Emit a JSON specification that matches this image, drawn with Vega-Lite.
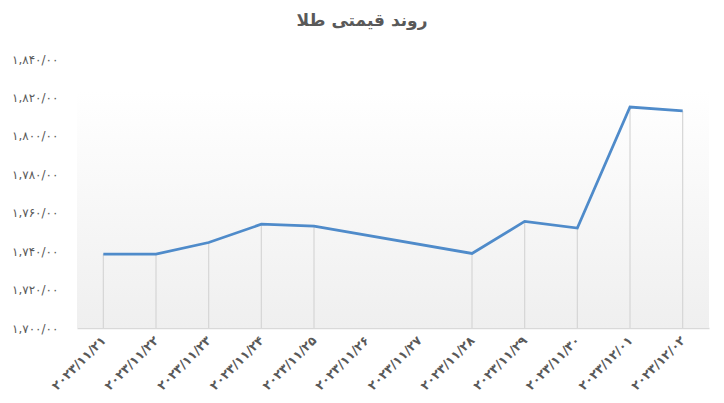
{
  "$schema": "https://vega.github.io/schema/vega-lite/v6.json",
  "width": 632,
  "height": 269,
  "autosize": {"type": "none"},
  "padding": {"left": 77, "top": 59, "right": 15, "bottom": 75},
  "background": "white",
  "title": {"text": "روند قیمتی طلا", "anchor": "middle", "dx": -31, "offset": 23, "fontSize": 17, "fontWeight": "bold", "color": "#595959", "font": "DejaVu Sans"},
  "data": {"values": [
    {"date": "۲۰۲۳/۱۱/۲۱", "price": 1738.5},
    {"date": "۲۰۲۳/۱۱/۲۲", "price": 1738.5},
    {"date": "۲۰۲۳/۱۱/۲۳", "price": 1744.5},
    {"date": "۲۰۲۳/۱۱/۲۴", "price": 1754},
    {"date": "۲۰۲۳/۱۱/۲۵", "price": 1753},
    {"date": "۲۰۲۳/۱۱/۲۸", "price": 1738.8},
    {"date": "۲۰۲۳/۱۱/۲۹", "price": 1755.5},
    {"date": "۲۰۲۳/۱۱/۳۰", "price": 1752},
    {"date": "۲۰۲۳/۱۲/۰۱", "price": 1815},
    {"date": "۲۰۲۳/۱۲/۰۲", "price": 1813}
  ]},
  "encoding": {
    "x": {
      "field": "date", "type": "ordinal", "sort": null,
      "scale": {"type": "point", "padding": 0.5, "domain": ["۲۰۲۳/۱۱/۲۱", "۲۰۲۳/۱۱/۲۲", "۲۰۲۳/۱۱/۲۳", "۲۰۲۳/۱۱/۲۴", "۲۰۲۳/۱۱/۲۵", "۲۰۲۳/۱۱/۲۶", "۲۰۲۳/۱۱/۲۷", "۲۰۲۳/۱۱/۲۸", "۲۰۲۳/۱۱/۲۹", "۲۰۲۳/۱۱/۳۰", "۲۰۲۳/۱۲/۰۱", "۲۰۲۳/۱۲/۰۲"]},
      "axis": {"title": null, "labelAngle": -45, "labelAlign": "right", "labelBaseline": "middle", "labelPadding": 10, "labelFontSize": 12.5, "labelFontWeight": "bold", "labelColor": "#595959", "labelFont": "DejaVu Sans", "labelOverlap": false, "ticks": false, "grid": false, "domainColor": "#d9d9d9", "domainWidth": 1.5}
    },
    "y": {
      "field": "price", "type": "quantitative",
      "scale": {"domain": [1700, 1840], "nice": false, "zero": false},
      "axis": {"title": null, "values": [1700, 1720, 1740, 1760, 1780, 1800, 1820, 1840], "labelOverlap": false, "domain": false, "ticks": false, "grid": false, "labelPadding": 19, "labelFontSize": 12, "labelColor": "#595959", "labelFont": "DejaVu Sans",
        "labelExpr": "replace(replace(replace(replace(replace(replace(replace(replace(replace(replace(replace(format(datum.value, ',.2f'), '.', '/'), regexp('0','g'), '۰'), regexp('1','g'), '۱'), regexp('2','g'), '۲'), regexp('3','g'), '۳'), regexp('4','g'), '۴'), regexp('5','g'), '۵'), regexp('6','g'), '۶'), regexp('7','g'), '۷'), regexp('8','g'), '۸'), regexp('9','g'), '۹')"}
    }
  },
  "layer": [
    {
      "data": {"values": [{"bg": 1}]},
      "mark": {"type": "rect", "color": {"gradient": "linear", "x1": 0, "y1": 0, "x2": 0, "y2": 1, "stops": [{"offset": 0, "color": "#ffffff"}, {"offset": 0.12, "color": "#ffffff"}, {"offset": 0.4, "color": "#fafafa"}, {"offset": 1, "color": "#efefef"}]}},
      "encoding": {"x": null, "y": null}
    },
    {
      "mark": {"type": "rule", "color": "#d6d6d6", "strokeWidth": 1.2},
      "encoding": {
        "y2": {"datum": 1700}
      }
    },
    {
      "mark": {"type": "line", "color": "#4f8bca", "strokeWidth": 2.75},
      "encoding": {}
    }
  ],
  "config": {"view": {"stroke": null}}
}
